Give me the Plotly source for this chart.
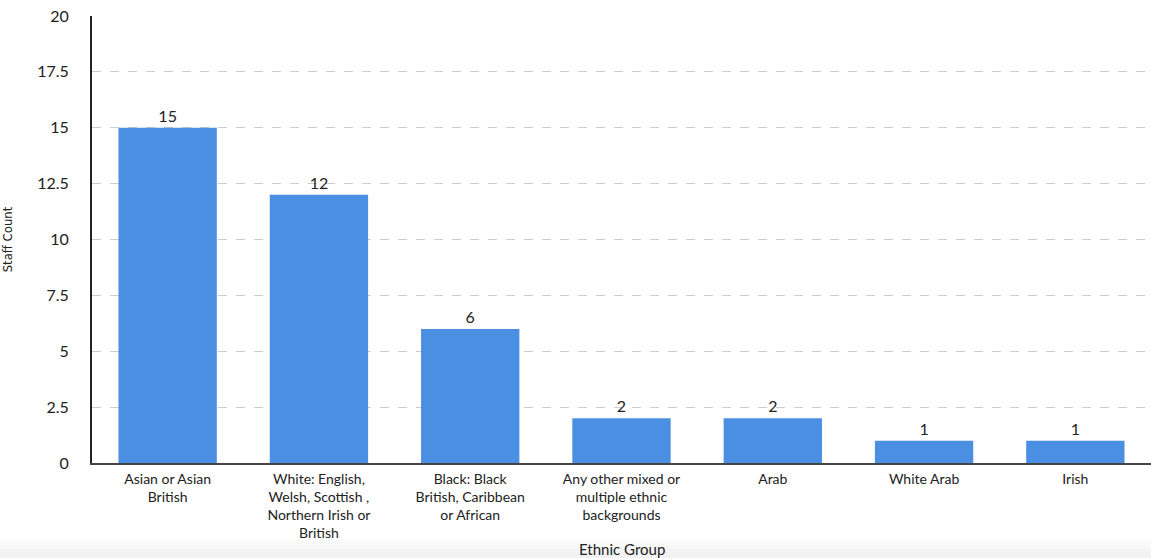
import plotly.graph_objects as go

categories = [
    "Asian or Asian<br>British",
    "White: English,<br>Welsh, Scottish ,<br>Northern Irish or<br>British",
    "Black: Black<br>British, Caribbean<br>or African",
    "Any other mixed or<br>multiple ethnic<br>backgrounds",
    "Arab",
    "White Arab",
    "Irish",
]
staff_count = [15, 12, 6, 2, 2, 1, 1]
y_ticks = [0, 2.5, 5, 7.5, 10, 12.5, 15, 17.5, 20]
y_tick_labels = ["0", "2.5", "5", "7.5", "10", "12.5", "15", "17.5", "20"]

fig = go.Figure(
    go.Bar(
        x=categories,
        y=staff_count,
        text=[str(v) for v in staff_count],
        textposition="outside",
        textfont=dict(family="Lato", size=16, color="#222222"),
        marker=dict(color="#4a8fe2", line=dict(width=0)),
        width=0.65,
        cliponaxis=False,
    )
)

# x axis title
fig.add_annotation(
    x=0.5, y=-(549 - 463) / 447, xref="paper", yref="paper",
    text="Ethnic Group", showarrow=False, yanchor="middle",
    font=dict(family="Lato", size=15, color="#222222"),
)

# faint grey band at the bottom of the page
greys = ["#fdfdfd", "#fafafa", "#f7f7f7", "#f4f4f4", "#f2f2f2"]
shapes = []
for i, g in enumerate(greys):
    top_px = 538 + i * 3.6
    y1 = (463 - top_px) / 447
    y0 = (463 - 560) / 447
    shapes.append(dict(type="rect", xref="paper", yref="paper", x0=-0.1, x1=1.1,
                       y0=y0, y1=y1, fillcolor=g, line=dict(width=0), layer="below"))
fig.layout.shapes = shapes

fig.update_layout(
    width=1151,
    height=558,
    margin=dict(l=92, r=0, t=16, b=95),
    plot_bgcolor="white",
    paper_bgcolor="white",
    font=dict(family="Lato", size=15, color="#222222"),
    showlegend=False,
    xaxis=dict(
        showline=True,
        linecolor="#444444",
        linewidth=1.5,
        ticks="",
        tickfont=dict(family="Lato", size=14, color="#222222"),
        ticklabelstandoff=2,
        showgrid=False,
    ),
    yaxis=dict(
        title=dict(text="Staff Count",
                   font=dict(family="DejaVu Sans Condensed, Liberation Sans Narrow, Roboto", size=13, color="#222222"),
                   standoff=22),
        range=[0, 20],
        tickvals=y_ticks,
        ticktext=y_tick_labels,
        tickfont=dict(family="Lato", size=16, color="#222222"),
        ticklabelstandoff=18,
        showline=True,
        linecolor="#222222",
        linewidth=2,
        showgrid=True,
        gridcolor="#cccccc",
        griddash="dash",
        gridwidth=1,
        zeroline=False,
    ),
)

fig.write_html("out.html")
